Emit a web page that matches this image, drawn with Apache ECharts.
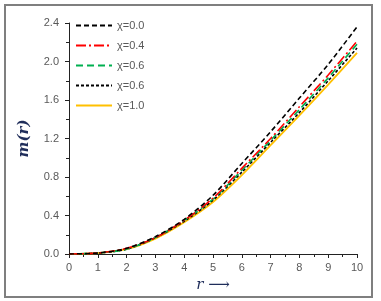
<!DOCTYPE html>
<html><head><meta charset="utf-8">
<script src="https://cdn.jsdelivr.net/npm/echarts@6/dist/echarts.min.js"></script>
<style>html,body{margin:0;padding:0;background:#fff}#c{width:381px;height:301px}</style>
</head><body><div id="c"></div>
<script>
const xValues = [0,1,2,3,4,5,6,7,8,9,10];
const seriesNames = ['χ=0.0','χ=0.4','χ=0.6','χ=0.6','χ=1.0'];
const chi00 = [0,0.01,0.06,0.18,0.36,0.61,0.94,1.27,1.62,1.97,2.36];
const chi04 = [0,0.01,0.06,0.17,0.35,0.58,0.89,1.20,1.53,1.86,2.21];
const chi06a = [0,0.01,0.05,0.17,0.35,0.57,0.87,1.18,1.50,1.83,2.18];
const chi06b = [0,0.01,0.05,0.17,0.34,0.56,0.85,1.16,1.47,1.80,2.14];
const chi10 = [0,0.01,0.05,0.16,0.33,0.54,0.82,1.13,1.44,1.76,2.09];
const allValues = [chi00, chi04, chi06a, chi06b, chi10];
const colors = ['#000000','#ff0000','#00b050','#000000','#ffc000'];
const dashes = [[5,3],[10,3,2,3],[7,4],[3,2],'solid'];
const widths = [1.6,1.6,1.6,1.6,1.8];

const chart = echarts.init(document.getElementById('c'));
chart.setOption({
  animation:false,
  backgroundColor:'#fff',
  graphic:[{type:'rect',shape:{x:5,y:5,width:367,height:292},style:{fill:'none',stroke:'#7f7f7f',lineWidth:2}}],
  grid:{left:69,right:24,top:23,bottom:47},
  legend:{
    orient:'vertical', left:70, top:15, itemWidth:36, itemHeight:10, itemGap:9,
    itemStyle:{opacity:0},
    textStyle:{color:'#595959',fontSize:11,fontFamily:'Liberation Sans, Arial'},
    data:seriesNames.map((n,i)=>({name:n+'\u200b'.repeat(i)}))
  },
  xAxis:{
    type:'value',min:0,max:10,interval:1,
    name:'r ⟶',nameLocation:'middle',nameGap:22,
    nameTextStyle:{color:'#1f2d5a',fontSize:15,fontFamily:'DejaVu Serif',fontStyle:'italic'},
    axisLine:{lineStyle:{color:'#222',width:1}},
    axisTick:{show:true,inside:false,length:4,lineStyle:{color:'#222'}},
    minorTick:{show:true,splitNumber:2,length:3,lineStyle:{color:'#222'}},
    axisLabel:{color:'#595959',fontSize:11,margin:8,fontFamily:'Liberation Sans, Arial'},
    splitLine:{show:false}
  },
  yAxis:{
    type:'value',min:0,max:2.4,interval:0.4,
    name:'m(r)',nameLocation:'middle',nameGap:37,nameRotate:90,
    nameTextStyle:{color:'#1f2d5a',fontSize:15,fontFamily:'DejaVu Serif',fontStyle:'italic',fontWeight:'bold'},
    axisLine:{show:true,lineStyle:{color:'#222',width:1}},
    axisTick:{show:true,inside:false,length:4,lineStyle:{color:'#222'}},
    minorTick:{show:true,splitNumber:2,length:3,lineStyle:{color:'#222'}},
    axisLabel:{color:'#595959',fontSize:11,margin:10,formatter:v=>v.toFixed(1),fontFamily:'Liberation Sans, Arial'},
    splitLine:{show:false}
  },
  series:allValues.map((vals,i)=>({
    name:seriesNames[i]+'\u200b'.repeat(i),
    type:'line',smooth:0.3,symbol:'none',showSymbol:false,
    data:xValues.map((x,j)=>[x,vals[j]]),
    lineStyle:{color:colors[i],type:dashes[i],width:widths[i]},
    itemStyle:{color:colors[i]},
    z:10-i
  }))
});
</script></body></html>
